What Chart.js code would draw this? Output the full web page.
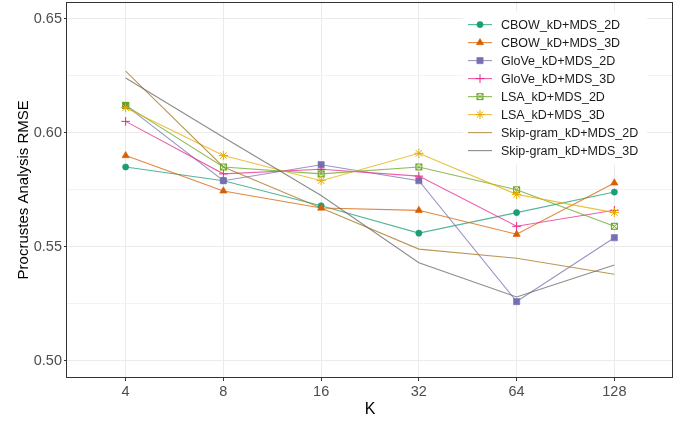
<!DOCTYPE html>
<html>
<head>
<meta charset="utf-8">
<title>Procrustes Analysis RMSE</title>
<script src="https://cdn.jsdelivr.net/npm/chart.js@4.4.1/dist/chart.umd.min.js"></script>
<style>
  html, body { margin: 0; padding: 0; background: #fff; overflow: hidden; }
  /* chart.js keeps a few px above the plot area; pull the canvas up to drop them */
  canvas { display: block; margin-top: -4px; }
</style>
</head>
<body>
<canvas id="chart" width="688" height="425"></canvas>
<script>
// Data
const K_LABELS = ['4', '8', '16', '32', '64', '128'];
const SERIES_NAMES = [
  'CBOW_kD+MDS_2D', 'CBOW_kD+MDS_3D',
  'GloVe_kD+MDS_2D', 'GloVe_kD+MDS_3D',
  'LSA_kD+MDS_2D', 'LSA_kD+MDS_3D',
  'Skip-gram_kD+MDS_2D', 'Skip-gram_kD+MDS_3D'
];
const CBOW_2D = [0.585, 0.579, 0.568, 0.556, 0.565, 0.574];
const CBOW_3D = [0.590, 0.5745, 0.567, 0.566, 0.5555, 0.578];
const GLOVE_2D = [0.612, 0.579, 0.586, 0.579, 0.526, 0.554];
const GLOVE_3D = [0.605, 0.582, 0.584, 0.581, 0.559, 0.566];
const LSA_2D = [0.612, 0.585, 0.582, 0.585, 0.575, 0.559];
const LSA_3D = [0.611, 0.590, 0.579, 0.591, 0.573, 0.565];
const SKIP_2D = [0.627, 0.585, 0.567, 0.549, 0.545, 0.538];
const SKIP_3D = [0.624, 0.598, 0.5725, 0.543, 0.528, 0.542];
const SERIES_VALUES = [CBOW_2D, CBOW_3D, GLOVE_2D, GLOVE_3D, LSA_2D, LSA_3D, SKIP_2D, SKIP_3D];

const COLORS = ['#1B9E77', '#D95F02', '#7570B3', '#E7298A', '#66A61E', '#E6AB02', '#A6761D', '#666666'];
const FONT = "'Liberation Sans', Arial, sans-serif";
const LINE_ALPHA = 0.75;

function withAlpha(hex, a) {
  const n = parseInt(hex.slice(1), 16);
  return 'rgba(' + (n >> 16 & 255) + ',' + (n >> 8 & 255) + ',' + (n & 255) + ',' + a + ')';
}

// open square with an x inside (R pch 7)
function squareCross(color) {
  const c = document.createElement('canvas');
  c.width = 9; c.height = 9;
  const g = c.getContext('2d');
  g.strokeStyle = color;
  g.lineWidth = 1;
  g.strokeRect(1.5, 1.5, 6, 6);
  g.beginPath();
  g.moveTo(1.5, 1.5); g.lineTo(7.5, 7.5);
  g.moveTo(7.5, 1.5); g.lineTo(1.5, 7.5);
  g.stroke();
  return c;
}

const MARKERS = [
  { style: 'circle', radius: 3.1, fill: true },
  { style: 'triangle', radius: 4.2, fill: true },
  { style: 'rect', radius: 4.4, fill: true },
  { style: 'cross', radius: 4.3, fill: false },
  { style: squareCross(COLORS[4]), radius: 4.5, fill: false },
  { style: 'star', radius: 4.6, fill: false },
  null,
  null
];

function isMajor(v) {
  return Math.abs(v * 20 - Math.round(v * 20)) < 1e-6;
}

// lines first (like geom_line), then points on top (geom_point)
const datasets = [];
SERIES_NAMES.forEach((name, i) => {
  datasets.push({
    label: name,
    data: SERIES_VALUES[i].map((v, k) => ({ x: k, y: v })),
    borderColor: withAlpha(COLORS[i], LINE_ALPHA),
    borderWidth: 1.1,
    pointRadius: 0,
    fill: false,
    tension: 0,
    order: 100 - i
  });
});
SERIES_NAMES.forEach((name, i) => {
  const m = MARKERS[i];
  if (!m) return;
  datasets.push({
    label: name + ' points',
    data: SERIES_VALUES[i].map((v, k) => ({ x: k, y: v })),
    showLine: false,
    pointStyle: m.style,
    pointRadius: m.radius,
    pointBackgroundColor: m.fill ? COLORS[i] : 'rgba(0,0,0,0)',
    pointBorderColor: COLORS[i],
    pointBorderWidth: m.fill ? 0.6 : 1,
    order: 50 - i
  });
});

function drawMarker(ctx, m, color, x, y) {
  if (typeof m.style === 'object') {
    ctx.drawImage(m.style, x - m.style.width / 2, y - m.style.height / 2);
    return;
  }
  ctx.fillStyle = m.fill ? color : 'rgba(0,0,0,0)';
  ctx.strokeStyle = color;
  ctx.lineWidth = m.fill ? 0.6 : 1;
  if (Chart.helpers && Chart.helpers.drawPoint) {
    Chart.helpers.drawPoint(ctx, { pointStyle: m.style, radius: m.radius, rotation: 0, borderWidth: ctx.lineWidth }, x, y);
  }
}

// legend inside the panel, top right, plus the panel border
const panelPlugin = {
  id: 'panel',
  beforeDatasetsDraw(chart) {
    const ctx = chart.ctx;
    const a = chart.chartArea;
    const left = a.right - 210;
    const top = a.top + 10;
    ctx.save();
    ctx.fillStyle = '#fff';
    ctx.fillRect(left, top, 184, 153);
    ctx.font = '12.5px ' + FONT;
    ctx.textBaseline = 'middle';
    SERIES_NAMES.forEach((name, i) => {
      const y = top + 13 + i * 18;
      ctx.strokeStyle = withAlpha(COLORS[i], LINE_ALPHA);
      ctx.lineWidth = 1.1;
      ctx.beginPath();
      ctx.moveTo(left + 5, y);
      ctx.lineTo(left + 29, y);
      ctx.stroke();
      if (MARKERS[i]) drawMarker(ctx, MARKERS[i], COLORS[i], left + 17, y);
      ctx.fillStyle = '#1A1A1A';
      ctx.fillText(name, left + 38, y + 0.5);
    });
    ctx.restore();
  },
  afterDatasetsDraw(chart) {
    const ctx = chart.ctx;
    const a = chart.chartArea;
    ctx.save();
    ctx.strokeStyle = '#333333';
    ctx.lineWidth = 1;
    ctx.strokeRect(Math.round(a.left) - 0.5, Math.round(a.top) + 0.5,
      Math.round(a.right - a.left), Math.round(a.bottom - a.top) - 1);
    ctx.restore();
  }
};

new Chart(document.getElementById('chart'), {
  type: 'line',
  data: { datasets: datasets },
  options: {
    responsive: false,
    animation: false,
    layout: { padding: { top: 2, right: 15, left: 0, bottom: 0 } },
    plugins: {
      legend: { display: false },
      tooltip: { enabled: false }
    },
    scales: {
      x: {
        type: 'linear',
        min: -0.6,
        max: 5.6,
        afterFit: s => { s.height = 43; s.paddingLeft = 0; s.paddingRight = 0; },
        border: { display: false },
        grid: { color: '#EBEBEB', lineWidth: 1, tickLength: 3, tickColor: '#333333' },
        ticks: {
          stepSize: 1,
          includeBounds: false,
          padding: 2,
          color: '#4D4D4D',
          font: { family: FONT, size: 14.5 },
          maxRotation: 0,
          callback: v => K_LABELS[Math.round(v)]
        },
        title: {
          display: true,
          text: 'K',
          color: '#000',
          font: { family: FONT, size: 16 },
          padding: { top: 0, bottom: 2 }
        }
      },
      y: {
        min: 0.4925,
        max: 0.6575,
        afterFit: s => { s.width = 67; s.paddingTop = 0; s.paddingBottom = 0; },
        border: { display: false },
        grid: {
          color: c => isMajor(c.tick.value) ? '#EBEBEB' : '#F3F3F3',
          lineWidth: 1,
          tickLength: 3,
          tickColor: c => isMajor(c.tick.value) ? '#333333' : 'rgba(0,0,0,0)'
        },
        ticks: {
          stepSize: 0.025,
          includeBounds: false,
          padding: 2,
          color: '#4D4D4D',
          font: { family: FONT, size: 14.5 },
          callback: v => isMajor(v) ? v.toFixed(2) : ''
        },
        title: {
          display: true,
          text: 'Procrustes Analysis RMSE',
          color: '#000',
          font: { family: FONT, size: 15 },
          padding: { top: 15, bottom: 0 }
        }
      }
    }
  },
  plugins: [panelPlugin]
});
</script>
</body>
</html>
